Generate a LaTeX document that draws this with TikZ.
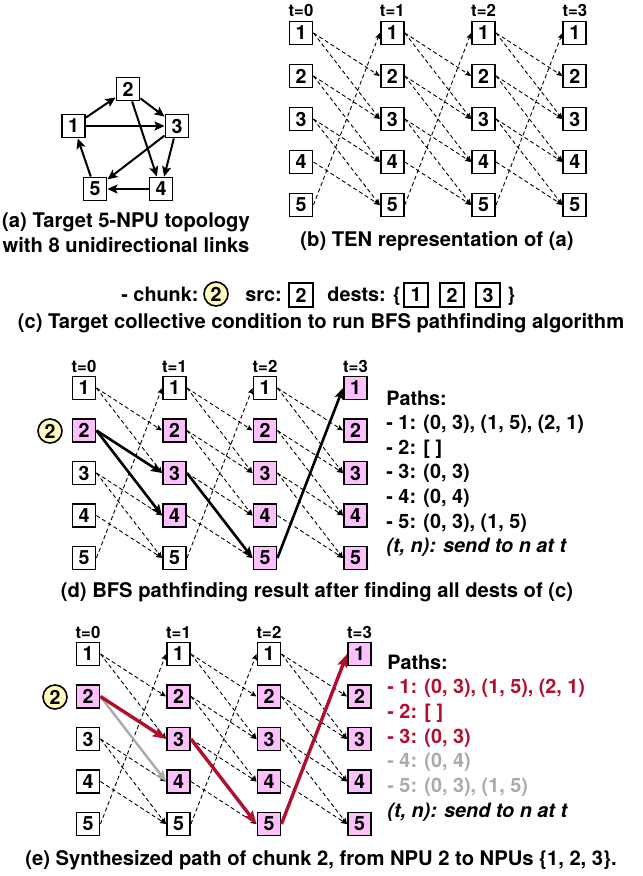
\documentclass[tikz,border=0pt]{standalone}
\usepackage{fontspec}
\setmainfont{TeX Gyre Heros}
\usetikzlibrary{arrows.meta}
\definecolor{npupink}{RGB}{252,192,252}
\definecolor{chunkyellow}{RGB}{255,250,190}
\definecolor{pathred}{RGB}{176,16,48}
\definecolor{pathgray}{RGB}{170,170,170}
\tikzset{
  npu/.style={draw, line width=0.95pt, minimum size=11.5pt, inner sep=0pt, fill=white,
    font=\fontsize{9.8}{11}\selectfont\bfseries},
  hit/.style={npu, fill=npupink},
  cbox/.style={npu, line width=0.6pt, minimum size=12pt},
  chunk/.style={draw, circle, line width=0.8pt, fill=chunkyellow, minimum size=12pt,
    inner sep=0pt, font=\fontsize{9.8}{11}\selectfont\bfseries},
  tlabel/.style={anchor=base, inner sep=0pt, font=\fontsize{8.4}{10}\selectfont\bfseries},
  captext/.style={anchor=base, inner sep=0pt, font=\fontsize{10.1}{12}\selectfont\bfseries},
  pathtxt/.style={anchor=base west, inner sep=0pt, font=\fontsize{9.9}{12}\selectfont\bfseries},
  link/.style={line width=1pt, -{Stealth[length=5pt,width=4.5pt,inset=1pt]}},
  ten/.style={line width=0.45pt, dash pattern=on 2pt off 1.4pt,
    -{Stealth[length=3pt,width=2.6pt,inset=0.5pt]}},
  bfs/.style={line width=1.3pt, -{Stealth[length=5.5pt,width=4.5pt,inset=1pt]}},
  sel/.style={line width=1.7pt, color=pathred, -{Stealth[length=6.5pt,width=5pt,inset=1pt]}},
  drop/.style={line width=1.2pt, color=pathgray, -{Stealth[length=5.5pt,width=4.5pt,inset=1pt]}}
}
\begin{document}
\begin{tikzpicture}[x=0.5pt,y=-0.5pt]
  \useasboundingbox (0,0) rectangle (642,876);

  % (a) topology
  \node[npu] (A1) at (73.5,126) {1};
  \node[npu] (A2) at (128,89) {2};
  \node[npu] (A3) at (177,126) {3};
  \node[npu] (A4) at (161,189) {4};
  \node[npu] (A5) at (95,189) {5};

  \draw[link] (A1)--(A2);
  \draw[link] (A1)--(A3);
  \draw[link] (A2)--(A3);
  \draw[link] (A2)--(A4);
  \draw[link] (A3)--(A4);
  \draw[link] (A3)--(A5);
  \draw[link] (A4)--(A5);
  \draw[link] (A5)--(A1);

  \node[captext] (AC1) at (126,228) {(a) Target 5-NPU topology};
  \node[captext] (AC2) at (126,253) {with 8 unidirectional links};

  % (b) TEN
  \foreach \t in {0,...,3} {
    \node[tlabel] (BT\t) at ({301+91.3*\t},17) {t=\t};
    \foreach \n in {1,...,5}
      \node[npu] (B\t\n) at ({301+91.3*\t},{33+43*(\n-1)}) {\n};
  }
  \foreach \t [count=\u] in {0,1,2}
    \foreach \s/\d in {1/2,1/3,2/3,2/4,3/4,3/5,4/5,5/1}
      \draw[ten] (B\t\s.east)--(B\u\d.west);

  \node[captext] (BC) at (437,247) {(b) TEN representation of (a)};

  % (c) condition
  \node[pathtxt] (CK) at (121,302) {- chunk:};
  \node[chunk] (CC) at (216,294) {2};
  \node[pathtxt] (CS) at (245,302) {src:};
  \node[cbox] (CS2) at (301,295) {2};
  \node[pathtxt] (CD) at (327,302) {dests: \{};
  \node[cbox] (CD1) at (416,295) {1};
  \node[cbox] (CD2) at (452,295) {2};
  \node[cbox] (CD3) at (488,295) {3};
  \node[pathtxt] (CE) at (507,302) {\}};
  \node[captext] (CCap) at (321,329) {(c) Target collective condition to run BFS pathfinding algorithm};

  % (d) and (e) TEN grids
  \foreach \p/\xo/\yo in {D/84/388,E/88/654} {
    \foreach \t/\sa/\sb/\sc/\sd/\se in {0/npu/hit/npu/npu/npu,1/npu/hit/hit/hit/npu,
                                      2/npu/hit/hit/hit/hit,3/hit/hit/hit/hit/hit} {
      \node[tlabel] (\p T\t) at ({\xo+90.5*\t},{\yo-16}) {t=\t};
      \foreach \n/\st in {1/\sa,2/\sb,3/\sc,4/\sd,5/\se}
        \node[\st] (\p\t\n) at ({\xo+90.5*\t},{\yo+42.5*(\n-1)}) {\n};
    }
    \foreach \s/\d in {1/2,1/3,3/4,3/5,4/5,5/1}
      \draw[ten] (\p0\s.east)--(\p1\d.west);
    \foreach \s/\d in {1/2,1/3,2/3,2/4,3/4,4/5,5/1}
      \draw[ten] (\p1\s.east)--(\p2\d.west);
    \foreach \s/\d in {1/2,1/3,2/3,2/4,3/4,3/5,4/5}
      \draw[ten] (\p2\s.east)--(\p3\d.west);
  }

  % (d) BFS result
  \node[chunk] (DC) at (50,431) {2};
  \draw[bfs] (D02.east)--(D13.west);
  \draw[bfs] (D02.east)--(D14.west);
  \draw[bfs] (D13.east)--(D25.west);
  \draw[bfs] (D25.east)--(D31.west);

  \foreach \txt [count=\i from 0] in {{Paths:},{- 1: (0, 3), (1, 5), (2, 1)},{- 2: [ ]},
      {- 3: (0, 3)},{- 4: (0, 4)},{- 5: (0, 3), (1, 5)},{\itshape (t, n): send to n at t}}
    \node[pathtxt] (DP\i) at (386,{405+24.6*\i}) {\txt};

  \node[captext] (DCap) at (317,597) {(d) BFS pathfinding result after finding all dests of (c)};

  % (e) synthesized path
  \node[chunk] (EC) at (55,697) {2};
  \draw[drop] (E02.east)--(E14.west);
  \draw[sel] (E02.east)--(E13.west);
  \draw[sel] (E13.east)--(E25.west);
  \draw[sel] (E25.east)--(E31.west);

  \foreach \txt/\col [count=\i from 0] in {{Paths:}/black,{- 1: (0, 3), (1, 5), (2, 1)}/pathred,
      {- 2: [ ]}/pathred,{- 3: (0, 3)}/pathred,{- 4: (0, 4)}/pathgray,{- 5: (0, 3), (1, 5)}/pathgray,
      {\itshape (t, n): send to n at t}/black}
    \node[pathtxt, text=\col] (EP\i) at (387,{669+24.7*\i}) {\txt};

  \node[captext] (ECap) at (321,865) {(e) Synthesized path of chunk 2, from NPU 2 to NPUs \{1, 2, 3\}.};
\end{tikzpicture}
\end{document}
